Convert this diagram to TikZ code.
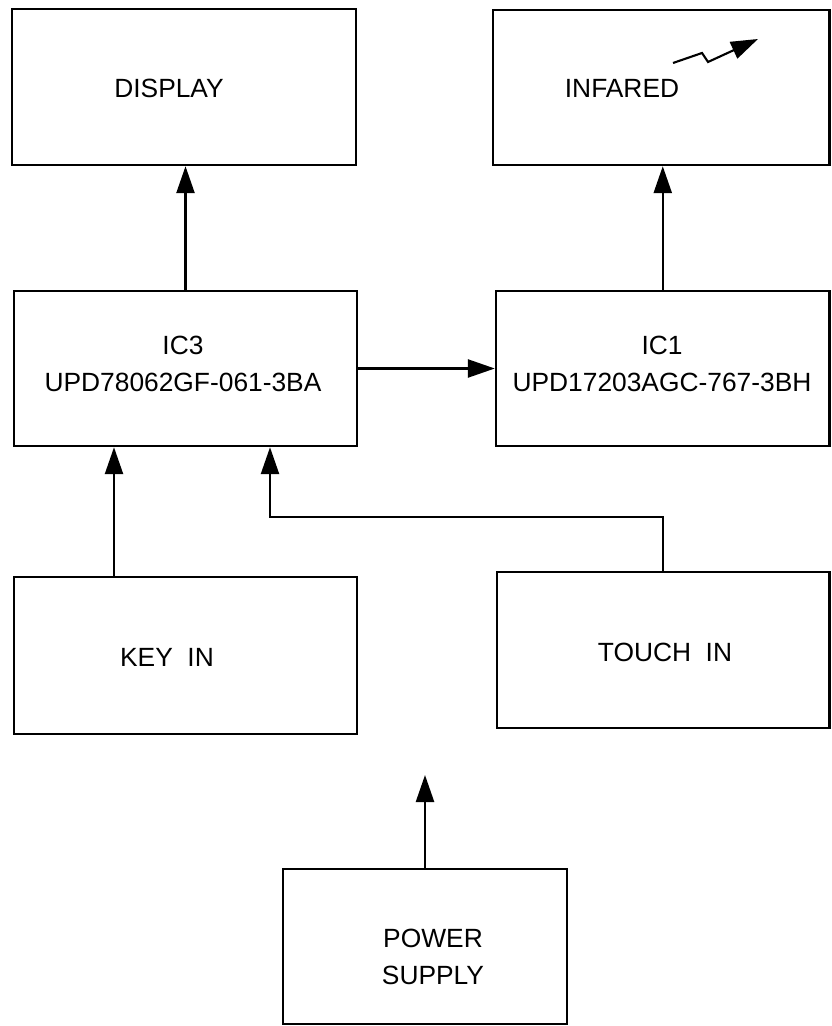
\documentclass[tikz,border=0pt]{standalone}
\usepackage{fontspec}
\setmainfont{Liberation Sans}[WordSpace=2]
\usetikzlibrary{positioning,calc,arrows.meta}

\begin{document}
\begin{tikzpicture}[x=0.02cm,y=-0.02cm]
	\tikzset{
		blk/.style={draw=black, line width=1.4pt, inner sep=0pt},
		lnk/.style={draw=black, line width=1.4pt, -{Triangle[length=5.4mm,width=3.6mm]}},
		txt/.style={font=\fontsize{15}{21}\selectfont, align=center, inner sep=0pt}
	}
	\useasboundingbox (0,0) rectangle (831,1026);
	
	% blocks
	\node[blk, minimum width=6.88cm, minimum height=3.12cm] (disp) at (184,87) {};
	\node[blk, minimum width=6.73cm, minimum height=3.10cm] (infr) at (661.25,87.5) {};
	\node[blk, minimum width=6.86cm, minimum height=3.10cm] (ic3) at (185.5,368.5) {};
	\node[blk, minimum width=6.67cm, minimum height=3.10cm] (ic1) at (662.75,368.5) {};
	\node[blk, minimum width=6.86cm, minimum height=3.14cm] (keyin) at (185.5,655.5) {};
	\node[blk, minimum width=6.65cm, minimum height=3.12cm] (touchin) at (663.25,650) {};
	\node[blk, minimum width=5.68cm, minimum height=3.10cm] (power) at (425,946.5) {};
	
	% texts
	\node[txt] (disptxt) at (169,88) {DISPLAY};
	\node[txt] (infrtxt) at (622,88) {INFARED};
	\node[txt] (ic3txt) at (183,364) {IC3\\UPD78062GF-061-3BA};
	\node[txt] (ic1txt) at (662,364) {IC1\\UPD17203AGC-767-3BH};
	\node[txt] (keytxt) at (167,657) {KEY IN};
	\node[txt] (touchtxt) at (665,652) {TOUCH IN};
	\node[txt] (pwrtxt) at (433,956.5) {POWER\\SUPPLY};
	
	% links
	\draw[lnk] (ic3.north) -- (ic3.north |- disp.south);
	\draw[lnk] (ic1.north) -- (ic1.north |- infr.south);
	\draw[lnk] (ic3.east) -- (ic1.west);
	\coordinate (keyx) at (114,0);
	\draw[lnk] (keyin.north -| keyx) -- (ic3.south -| keyx);
	\coordinate (touchbend) at (270,517);
	\draw[lnk] (touchin.north) |- (touchbend) -- (touchbend |- ic3.south);
	\coordinate (pwrtip) at (425,775);
	\draw[lnk] (power.north) -- (pwrtip);
	
	% infrared beam
	\coordinate (ir0) at (673,63);
	\coordinate (ir1) at (702,53);
	\coordinate (ir2) at (708,62);
	\coordinate (ir3) at (758,39);
	\draw[lnk, line width=1.2pt] (ir0) -- (ir1) -- (ir2) -- (ir3);
\end{tikzpicture}
\end{document}
